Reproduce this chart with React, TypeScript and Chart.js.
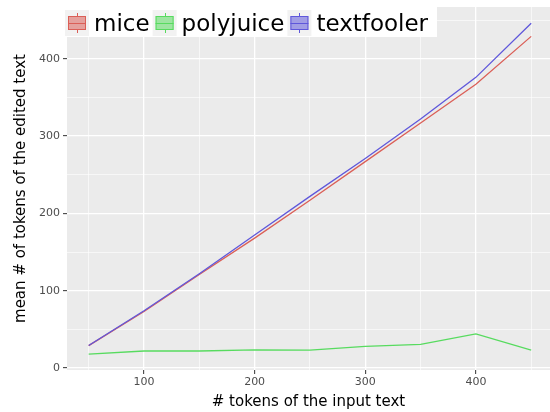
import React, { useEffect, useRef } from "react";
import { Chart, registerables } from "chart.js";

Chart.register(...registerables);

const inputTokens = [50, 100, 150, 200, 250, 300, 350, 400, 450];
const miceValues = [29, 73, 121, 168, 217, 267, 317, 367, 429];
const polyjuiceValues = [18, 22, 22, 23.5, 23, 28, 30.5, 44, 23];
const textfoolerValues = [29, 74, 122, 172, 222, 271, 322, 376, 446];

const seriesNames = ["mice", "polyjuice", "textfooler"];
const seriesColors = ["#db5f57", "#57db5f", "#5f57db"];
const seriesFills = ["rgba(219,95,87,0.55)", "rgba(87,219,95,0.55)", "rgba(95,87,219,0.55)"];

const xTicks = [50, 100, 150, 200, 250, 300, 350, 400, 450];
const xLabelTicks = [100, 200, 300, 400];
const yTicks = [0, 50, 100, 150, 200, 250, 300, 350, 400, 450];
const yLabelTicks = [0, 100, 200, 300, 400];

const FONT = "'DejaVu Sans', sans-serif";

const panelBg = {
  id: "panelBg",
  beforeDraw(chart: any) {
    const { ctx, chartArea } = chart;
    ctx.save();
    ctx.fillStyle = "#ebebeb";
    ctx.fillRect(chartArea.left, chartArea.top, chartArea.right - chartArea.left, chartArea.bottom - chartArea.top);
    ctx.restore();
  },
};

const ggLegend = {
  id: "ggLegend",
  afterDraw(chart: any) {
    const { ctx } = chart;
    ctx.save();
    ctx.font = `23px ${FONT}`;
    const startX = 68;
    const keyW = 18;
    const textOff = 26;
    const gap = 6;
    let x = startX;
    const items: any[] = [];
    seriesNames.forEach((name, i) => {
      const w = ctx.measureText(name).width;
      items.push({ name, i, keyX: x, textX: x + textOff, w });
      x = x + textOff + w + gap;
    });
    const right = x - gap + 9;
    ctx.fillStyle = "#ffffff";
    ctx.fillRect(63, 0, right - 63, 37);
    items.forEach((it) => {
      const kx = it.keyX;
      ctx.fillStyle = "#f2f2f2";
      ctx.fillRect(kx - 3, 10, keyW + 6, 26);
      ctx.fillStyle = seriesFills[it.i];
      ctx.fillRect(kx, 16, keyW, 14);
      ctx.strokeStyle = seriesColors[it.i];
      ctx.lineWidth = 1;
      ctx.strokeRect(kx + 0.5, 16.5, keyW - 1, 13);
      ctx.beginPath();
      ctx.moveTo(kx, 23.5);
      ctx.lineTo(kx + keyW, 23.5);
      const cx = Math.round(kx + keyW / 2) + 0.5;
      ctx.moveTo(cx, 13);
      ctx.lineTo(cx, 16);
      ctx.moveTo(cx, 30);
      ctx.lineTo(cx, 33);
      ctx.stroke();
      ctx.fillStyle = "#000000";
      ctx.textBaseline = "alphabetic";
      ctx.textAlign = "left";
      ctx.fillText(it.name, it.textX, 31);
    });
    ctx.restore();
  },
};

export default function App() {
  const canvasRef = useRef<HTMLCanvasElement | null>(null);

  useEffect(() => {
    if (!canvasRef.current) return;
    const mk = (vals: number[]) => inputTokens.map((x, i) => ({ x, y: vals[i] }));
    const allValues = [miceValues, polyjuiceValues, textfoolerValues];
    const chart = new Chart(canvasRef.current, {
      type: "line",
      data: {
        datasets: seriesNames.map((name, i) => ({
          label: name,
          data: mk(allValues[i]),
          borderColor: seriesColors[i],
          backgroundColor: seriesColors[i],
          borderWidth: 1.3,
          pointRadius: 0,
          tension: 0,
          fill: false,
          order: 2 - i,
        })),
      },
      options: {
        animation: false,
        responsive: false,
        layout: { padding: { top: 7, left: 0, right: 0, bottom: 0 } },
        plugins: { legend: { display: false }, tooltip: { enabled: false } },
        scales: {
          x: {
            type: "linear",
            min: 30.4,
            max: 467,
            afterFit(scale: any) {
              scale.height = 42;
              scale.paddingLeft = 0;
              scale.paddingRight = 0;
            },
            afterBuildTicks(scale: any) {
              scale.ticks = xTicks.map((v) => ({ value: v }));
            },
            ticks: {
              autoSkip: false,
              maxRotation: 0,
              padding: 2,
              color: "#4d4d4d",
              font: { family: FONT, size: 11 },
              callback: (v: any) => (xLabelTicks.includes(Number(v)) ? String(v) : ""),
            },
            grid: {
              color: "#ffffff",
              lineWidth: (c: any) => (xLabelTicks.includes(c.tick?.value) ? 1.3 : 0.6),
              tickColor: (c: any) => (xLabelTicks.includes(c.tick?.value) ? "#333333" : "rgba(0,0,0,0)"),
              tickWidth: 1,
              tickLength: 4,
              drawTicks: true,
            },
            border: { display: false },
            title: {
              display: true,
              text: "# tokens of the input text",
              color: "#000000",
              font: { family: FONT, size: 15 },
              padding: { top: 0, bottom: 1 },
            },
          },
          y: {
            type: "linear",
            min: -2.6,
            max: 467,
            afterFit(scale: any) {
              scale.width = 67;
              scale.paddingTop = 0;
              scale.paddingBottom = 0;
            },
            afterBuildTicks(scale: any) {
              scale.ticks = yTicks.map((v) => ({ value: v }));
            },
            ticks: {
              autoSkip: false,
              padding: 3,
              color: "#4d4d4d",
              font: { family: FONT, size: 11 },
              callback: (v: any) => (yLabelTicks.includes(Number(v)) ? String(v) : ""),
            },
            grid: {
              color: "#ffffff",
              lineWidth: (c: any) => (yLabelTicks.includes(c.tick?.value) ? 1.3 : 0.6),
              tickColor: (c: any) => (yLabelTicks.includes(c.tick?.value) ? "#333333" : "rgba(0,0,0,0)"),
              tickWidth: 1,
              tickLength: 4,
              drawTicks: true,
            },
            border: { display: false },
            title: {
              display: true,
              text: "mean # of tokens of the edited text",
              color: "#000000",
              font: { family: FONT, size: 15 },
              padding: { top: 12, bottom: 0 },
            },
          },
        },
      },
      plugins: [panelBg, ggLegend],
    } as any);
    return () => chart.destroy();
  }, []);

  return (
    <div style={{ position: "absolute", left: 0, top: 0, width: 550, height: 412, background: "#ffffff" }}>
      <canvas ref={canvasRef} width={550} height={412} style={{ display: "block", width: 550, height: 412 }} />
    </div>
  );
}
